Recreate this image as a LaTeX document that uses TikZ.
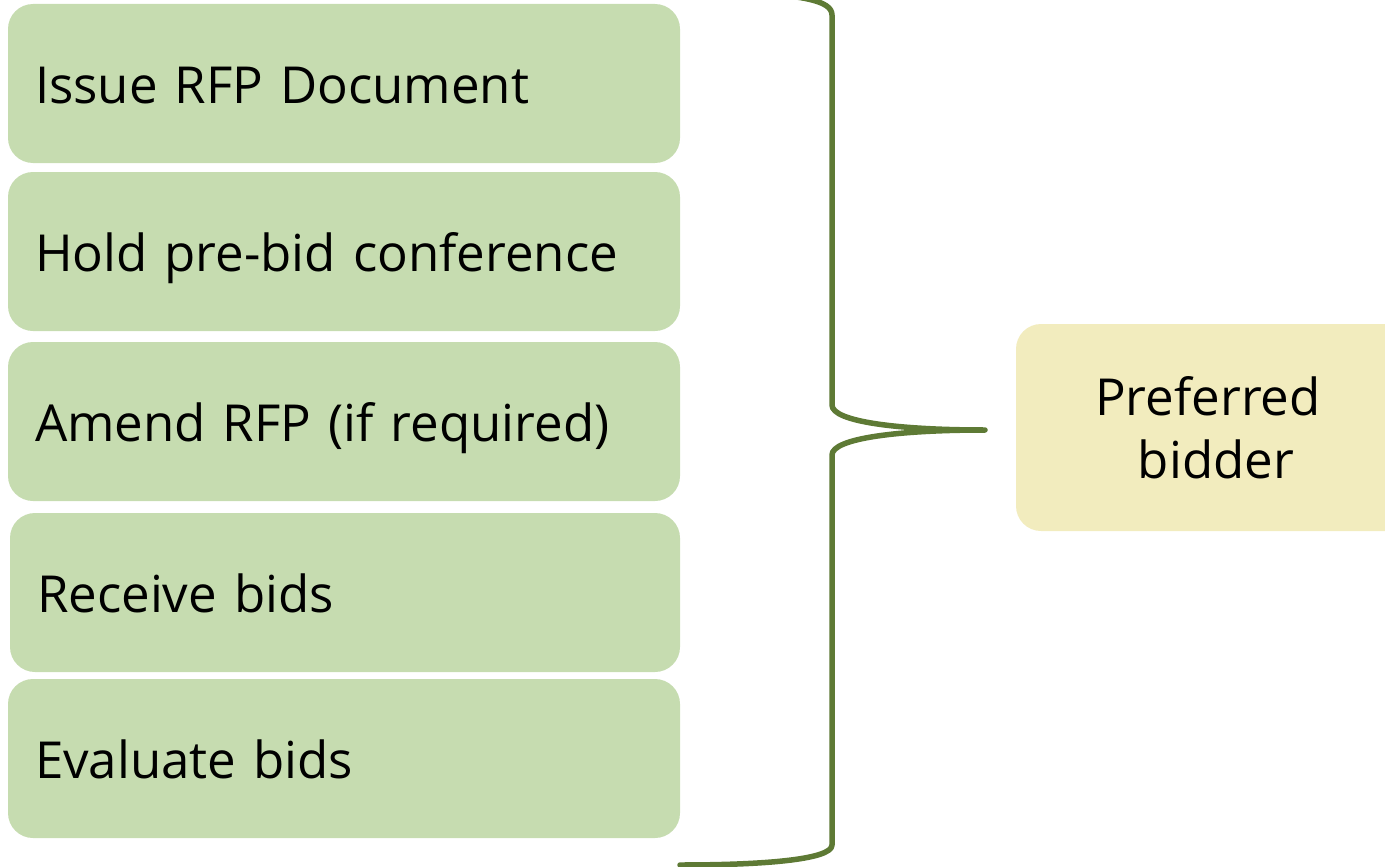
\documentclass[tikz,border=0pt]{standalone}
\usepackage{fontspec}
\setmainfont{Open Sans}
\definecolor{boxgreen}{HTML}{C6DCB0}
\definecolor{boxyellow}{HTML}{F2ECBE}
\definecolor{bracegreen}{HTML}{5E7A35}
\begin{document}
\begin{tikzpicture}[x=1pt,y=-1pt,
  step box/.style={fill=boxgreen, rounded corners=25pt, minimum width=672pt, minimum height=159pt,
    text width=618pt, inner xsep=27pt, inner ysep=0pt, align=left, text height=40pt, text depth=0pt,
    font=\fontsize{51}{60}\selectfont},
  result box/.style={fill=boxyellow, rounded corners=25pt, minimum width=400pt, minimum height=207pt,
    text width=380pt, inner sep=0pt, align=center, font=\fontsize{51}{63}\selectfont},
  brace line/.style={draw=bracegreen, line width=5.5pt, line cap=round, line join=round}]
\useasboundingbox (0,0) rectangle (1385,867);
\clip (0,0) rectangle (1385,867);
\node[step box] (b1) at (344,83.5) {Issue RFP Document};
\node[step box] (b2) at (344,251.5) {Hold pre-bid conference};
\node[step box] (b3) at (344,421.5) {Amend RFP (if required)};
\node[step box, minimum width=670pt, text width=616pt] (b4) at (345,592.5) {Receive bids};
\node[step box] (b5) at (344,758.5) {Evaluate bids};
\node[result box] (pb) at (1216,427.5) {\hspace*{-16pt}Preferred\\ bidder};
\coordinate (top) at (720,-8);
\coordinate (tip) at (985,430);
\coordinate (bot) at (680,865);
\draw[brace line] (top) .. controls (800,-6) and (832,0) .. (832,15) -- (832,405)
  .. controls (832,422) and (900,430) .. (tip)
  .. controls (900,430) and (832,438) .. (832,455) -- (832,845)
  .. controls (832,860) and (760,865) .. (bot);
\end{tikzpicture}
\end{document}
